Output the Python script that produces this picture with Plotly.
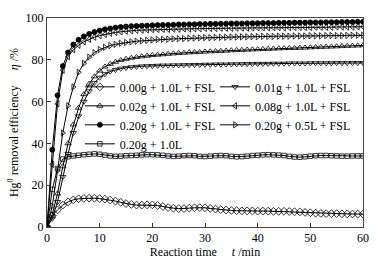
import plotly.graph_objects as go

t_min = list(range(0, 61))

eff_000g_10L_FSL = [0, 5.5, 8.2, 10.5, 12.0, 13.0, 13.5, 13.7, 13.8, 13.8, 13.6, 13.3, 12.9, 12.4, 11.8, 11.2,
                    10.8, 10.5, 10.5, 10.6, 10.6, 10.3, 9.8, 9.3, 9.0, 8.8, 8.8, 9.0, 9.2, 9.3, 9.2, 8.9, 8.6,
                    8.3, 8.1, 7.9, 7.8, 7.7, 7.7, 7.7, 7.6, 7.6, 7.6, 7.5, 7.5, 7.5, 7.4, 7.3, 7.2, 7.0, 6.8,
                    6.6, 6.5, 6.4, 6.4, 6.4, 6.3, 6.3, 6.2, 6.2, 6.2]
eff_001g_10L_FSL = [0, 4, 12, 24, 35, 45, 53, 60, 65, 69, 71.5, 73.2, 74.4, 75.2, 75.8, 76.2, 76.5, 76.7,
                    76.9, 77.0, 77.1, 77.2, 77.3, 77.3, 77.4, 77.4, 77.5, 77.5, 77.6, 77.6, 77.7, 77.7, 77.8,
                    77.8, 77.8, 77.9, 77.9, 78.0, 78.0, 78.0, 78.1, 78.1, 78.1, 78.2, 78.2, 78.2, 78.3, 78.3,
                    78.3, 78.3, 78.4, 78.4, 78.4, 78.4, 78.4, 78.5, 78.5, 78.5, 78.5, 78.5, 78.5]
eff_002g_10L_FSL = [0, 6, 16, 29, 40, 49, 57, 63.5, 68.5, 72, 74.8, 76.7, 78.0, 79.0, 79.8, 80.4, 80.9, 81.3,
                    81.6, 81.9, 82.2, 82.4, 82.6, 82.8, 83.0, 83.2, 83.3, 83.5, 83.6, 83.7, 83.9, 84.0, 84.1,
                    84.2, 84.3, 84.5, 84.6, 84.7, 84.8, 84.9, 85.0, 85.1, 85.2, 85.3, 85.4, 85.5, 85.6, 85.6,
                    85.7, 85.8, 85.9, 86.0, 86.1, 86.2, 86.3, 86.4, 86.5, 86.6, 86.7, 86.8, 86.9]
eff_008g_10L_FSL = [0, 30, 59, 75, 81.5, 84.8, 87, 88.6, 89.8, 90.8, 91.6, 92.2, 92.7, 93.1, 93.4, 93.7, 93.9,
                    94.1, 94.2, 94.3, 94.4, 94.5, 94.6, 94.6, 94.7, 94.7, 94.8, 94.8, 94.9, 94.9, 95.0, 95.0,
                    95.0, 95.1, 95.1, 95.1, 95.2, 95.2, 95.2, 95.3, 95.3, 95.3, 95.3, 95.4, 95.4, 95.4, 95.4,
                    95.5, 95.5, 95.5, 95.5, 95.6, 95.6, 95.6, 95.6, 95.7, 95.7, 95.7, 95.7, 95.8, 95.8]
eff_020g_10L_FSL = [0, 37, 63, 77, 83.5, 87.3, 89.6, 91.2, 92.4, 93.3, 94.0, 94.6, 95.0, 95.4, 95.7, 95.9,
                    96.1, 96.2, 96.3, 96.4, 96.5, 96.6, 96.7, 96.7, 96.8, 96.9, 96.9, 97.0, 97.0, 97.1, 97.1,
                    97.2, 97.2, 97.3, 97.3, 97.4, 97.4, 97.4, 97.5, 97.5, 97.5, 97.6, 97.6, 97.6, 97.7, 97.7,
                    97.7, 97.8, 97.8, 97.8, 97.9, 97.9, 97.9, 98.0, 98.0, 98.0, 98.1, 98.1, 98.1, 98.2, 98.2]
eff_020g_05L_FSL = [0, 10, 27, 45, 58, 67, 74, 78.3, 81.3, 83.4, 84.9, 86.0, 86.8, 87.4, 87.9, 88.3, 88.6,
                    88.9, 89.1, 89.3, 89.5, 89.7, 89.8, 89.9, 90.0, 90.1, 90.2, 90.3, 90.4, 90.5, 90.6, 90.6,
                    90.7, 90.8, 90.8, 90.9, 90.9, 91.0, 91.0, 91.1, 91.1, 91.2, 91.2, 91.2, 91.3, 91.3, 91.3,
                    91.4, 91.4, 91.4, 91.5, 91.5, 91.5, 91.6, 91.6, 91.6, 91.6, 91.7, 91.7, 91.7, 91.7]
eff_020g_10L = [0, 18, 28, 32.5, 33.6, 34.0, 34.3, 34.6, 34.8, 35.0, 34.8, 34.4, 34.0, 33.8, 33.9, 34.1, 34.2,
                34.3, 34.5, 34.6, 34.6, 34.5, 34.3, 34.0, 33.8, 33.9, 34.1, 34.2, 34.1, 33.8, 33.7, 33.9,
                34.1, 34.2, 34.1, 33.8, 33.6, 33.7, 33.9, 34.2, 34.3, 34.5, 34.6, 34.5, 34.4, 34.2, 33.8,
                33.5, 33.4, 33.6, 33.9, 34.1, 34.2, 34.2, 34.1, 34.0, 33.9, 33.9, 34.0, 34.0, 34.0]

series_names = ["0.00g + 1.0L + FSL", "0.01g + 1.0L + FSL", "0.02g + 1.0L + FSL",
                "0.08g + 1.0L + FSL", "0.20g + 1.0L + FSL", "0.20g + 0.5L + FSL", "0.20g + 1.0L"]
series_values = [eff_000g_10L_FSL, eff_001g_10L_FSL, eff_002g_10L_FSL, eff_008g_10L_FSL,
                 eff_020g_10L_FSL, eff_020g_05L_FSL, eff_020g_10L]
symbols = ["diamond-open", "triangle-down-open", "triangle-up-open", "triangle-left-open",
           "circle", "triangle-right-open", "square-open"]
sizes = [6, 5.5, 5.5, 5.5, 5, 5.5, 4.5]
legend_column = ["legend", "legend2", "legend", "legend2", "legend", "legend2", "legend"]

FONT = "Liberation Serif, Times New Roman, serif"

fig = go.Figure()
for name, vals, sym, sz, lg in zip(series_names, series_values, symbols, sizes, legend_column):
    fig.add_trace(go.Scatter(
        x=t_min, y=vals, name=name, mode="lines+markers", legend=lg,
        line=dict(color="black", width=1),
        marker=dict(symbol=sym, size=sz, color="black", line=dict(color="black", width=0.8)),
    ))

nb = "\u00a0"
legend_style = dict(
    orientation="v", xanchor="left", yanchor="top",
    bgcolor="rgba(0,0,0,0)", borderwidth=0,
    font=dict(family=FONT, size=12, color="black"),
    itemwidth=30, tracegroupgap=0,
)
fig.update_layout(
    width=379, height=260,
    margin=dict(l=47, r=16, t=18, b=33, autoexpand=False),
    paper_bgcolor="white", plot_bgcolor="white",
    font=dict(family=FONT, size=12, color="black"),
    showlegend=True,
    legend=dict(x=0.104, y=0.740, **legend_style),
    legend2=dict(x=0.532, y=0.740, **legend_style),
    xaxis=dict(
        range=[0, 60], tickvals=[0, 10, 20, 30, 40, 50, 60],
        ticks="inside", ticklen=4, tickcolor="#333", tickwidth=1,
        showline=True, linecolor="#444", linewidth=1, mirror=True,
        showgrid=False, zeroline=False, automargin=False,
        title=dict(text="Reaction time" + nb * 5 + "<i>t</i> /min", standoff=0,
                   font=dict(family=FONT, size=12)),
    ),
    yaxis=dict(
        range=[0, 100], tickvals=[0, 20, 40, 60, 80, 100],
        ticks="inside", ticklen=4, tickcolor="#333", tickwidth=1,
        showline=True, linecolor="#444", linewidth=1, mirror=True,
        showgrid=False, zeroline=False, automargin=False,
        title=dict(text="Hg<sup>0</sup> removal efficiency" + nb * 5 + "<i>η</i> /%", standoff=4,
                   font=dict(family=FONT, size=12)),
    ),
)

fig.write_html("out.html", config={"displayModeBar": False},
               post_script="document.body.style.margin='0';document.body.style.padding='0';")
